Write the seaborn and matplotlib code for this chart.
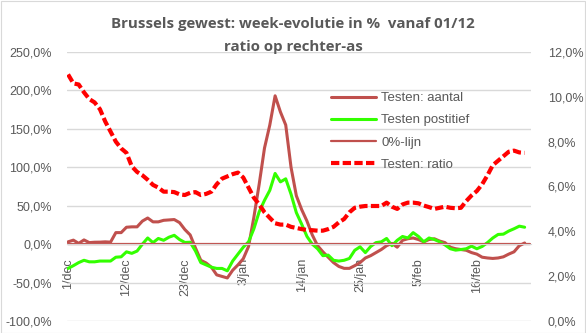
import matplotlib
matplotlib.use("Agg")
import matplotlib.pyplot as plt
import seaborn as sns
import pandas as pd
import numpy as np
from matplotlib.patches import Rectangle
from matplotlib.ticker import FuncFormatter, MultipleLocator

# ---- data ----
testen_aantal = [3, 5.2, 1, 5.5, 2, 2.5, 2.6, 3, 2.6, 15,
                 15, 22, 22.5, 22.5, 30, 34, 29, 29, 31, 31.5,
                 32, 28, 19, 12, -5, -21, -24.5, -30, -40, -42,
                 -44, -34, -27, -19, -3, 35, 78, 125, 155, 193,
                 172, 155, 100, 63, 45, 30, 12, -2, -10, -17,
                 -24, -29, -31.5, -31.5, -28, -24, -18, -15, -11, -7,
                 -2, 1, -4, 5, 7, 8, 6, 3, 6, 7,
                 4, 2, -4, -6, -7, -8, -11, -13, -17, -18,
                 -18.6, -18, -16.5, -13, -10, -2, 1.5]
testen_positief = [-31.6, -28, -24, -21, -23, -23, -22, -22, -22, -17,
                   -16.5, -10, -12, -9, 0, 8, 2, 7.4, 5, 9,
                   11.5, 6, 2.2, 2.5, -9, -24, -27, -30, -31.6, -31.6,
                   -34.7, -22, -13, -4, 3, 20, 42, 57, 70, 92,
                   81, 85, 65, 41, 26, 10, 0, -6, -15, -14.3,
                   -21, -22, -21, -18.6, -8, -3.5, -11, -3, 2, 3,
                   7.4, -2, 5, 10, 8, 15, 10, 3, 8, 6,
                   3, -1, -6, -7.8, -7, -6, -2.6, -6, -3, 2,
                   8, 12.6, 13, 17, 20, 23.4, 22]
testen_ratio = [11.0, 10.6, 10.55, 10.2, 9.9, 9.75, 9.45, 8.9, 8.45, 8.0,
                7.7, 7.5, 6.9, 6.65, 6.5, 6.3, 6.07, 5.95, 5.77, 5.77,
                5.75, 5.65, 5.62, 5.72, 5.75, 5.62, 5.67, 5.77, 6.1, 6.35,
                6.45, 6.55, 6.62, 6.4, 5.95, 5.5, 5.2, 4.85, 4.6, 4.36,
                4.3, 4.3, 4.2, 4.15, 4.1, 4.06, 4.05, 4.03, 4.03, 4.1,
                4.2, 4.4, 4.55, 4.85, 5.05, 5.1, 5.13, 5.13, 5.13, 5.13,
                5.28, 5.1, 5.0, 5.2, 5.28, 5.28, 5.25, 5.15, 5.08, 5.0,
                5.05, 5.1, 5.05, 5.03, 5.05, 5.35, 5.6, 5.8, 6.1, 6.5,
                6.95, 7.15, 7.35, 7.55, 7.6, 7.52, 7.5]
zero_line = [0.0] * 88
tick_labels = ["1/dec", "12/dec", "23/dec", "3/jan", "14/jan", "25/jan", "5/feb", "16/feb"]
tick_step = 11

series_names = ["Testen: aantal", "Testen postitief", "0%-lijn", "Testen: ratio"]

# ---- style ----
sns.set_style("white")
plt.rcParams['font.family'] = ['Liberation Sans', 'DejaVu Sans']
grey_txt = "#595959"

W, H = 586, 333
fig = plt.figure(figsize=(W / 100, H / 100), dpi=100)
fig.patches.append(Rectangle((0.5 / W, 0.5 / H), 1 - 1.5 / W, 1 - 1.5 / H, transform=fig.transFigure,
                             fill=False, edgecolor="#d9d9d9", lw=0.8))

ax = fig.add_axes([67 / W, 1 - 321 / H, (531 - 67) / W, (321 - 52) / H])
ax2 = ax.twinx()

df = pd.DataFrame({"dag": np.arange(len(testen_aantal)),
                   "aantal": testen_aantal,
                   "positief": testen_positief,
                   "ratio": testen_ratio})
dz = pd.DataFrame({"dag": np.arange(len(zero_line)), "nul": zero_line})

sns.lineplot(data=df, x="dag", y="aantal", ax=ax, color="#C0504D", lw=2.2, label=series_names[0])
sns.lineplot(data=df, x="dag", y="positief", ax=ax, color="#33FF00", lw=2.2, label=series_names[1])
sns.lineplot(data=dz, x="dag", y="nul", ax=ax, color="#C0504D", lw=1.6, label=series_names[2])
sns.lineplot(data=df, x="dag", y="ratio", ax=ax2, color="#FF0000", lw=3.0,
             linestyle=(0, (2.0, 0.8)), label=series_names[3])

# ---- axes ----
ax.set_xlim(-0.2, 87.2)
ax.set_ylim(-100, 250)
ax2.set_ylim(0, 12)
ax.yaxis.set_major_locator(MultipleLocator(50))
ax2.yaxis.set_major_locator(MultipleLocator(2))
ax.yaxis.set_major_formatter(FuncFormatter(lambda v, p: f"{v:.1f}%".replace(".", ",")))
ax2.yaxis.set_major_formatter(FuncFormatter(lambda v, p: f"{v:.1f}%".replace(".", ",")))
ax.yaxis.grid(True, color="#d9d9d9", lw=1.0)
ax.set_axisbelow(True)

for a in (ax, ax2):
    for s in a.spines.values():
        s.set_visible(False)
    a.set_xlabel("")
    a.set_ylabel("")

ax.spines["bottom"].set_visible(True)
ax.spines["bottom"].set_position(("data", 0))
ax.spines["bottom"].set_color("#d9d9d9")

ax.set_xticks(np.arange(len(tick_labels)) * tick_step)
ax.set_xticklabels(tick_labels, rotation=90, va="top", ha="center")
ax.tick_params(axis="x", length=4, color="#d9d9d9", pad=6, labelsize=9, labelcolor=grey_txt, direction="out")
ax.tick_params(axis="y", length=0, pad=11, labelsize=9, labelcolor=grey_txt)
ax2.tick_params(axis="y", length=0, pad=12, labelsize=9, labelcolor=grey_txt)

# ---- legend ----
h1, l1 = ax.get_legend_handles_labels()
h2, l2 = ax2.get_legend_handles_labels()
if ax.get_legend():
    ax.get_legend().remove()
if ax2.get_legend():
    ax2.get_legend().remove()
leg = ax2.legend(h1 + h2, l1 + l2, loc="upper left", bbox_to_anchor=(331 / W, 1 - 92 / H),
                 bbox_transform=fig.transFigure, frameon=False, borderpad=0, borderaxespad=0,
                 handlelength=3.4, handletextpad=0.4, labelspacing=0.76, fontsize=9.5)
for t in leg.get_texts():
    t.set_color(grey_txt)

# ---- title ----
fig.text(0.5, 1 - 24 / H, "Brussels gewest: week-evolutie in %  vanaf 01/12", ha="center", va="center",
         fontsize=10.8, fontweight="bold", color=grey_txt, family="Open Sans")
fig.text(0.5, 1 - 47 / H, "ratio op rechter-as", ha="center", va="center",
         fontsize=10.8, fontweight="bold", color=grey_txt, family="Open Sans")

fig.savefig("out.png", dpi=100)
